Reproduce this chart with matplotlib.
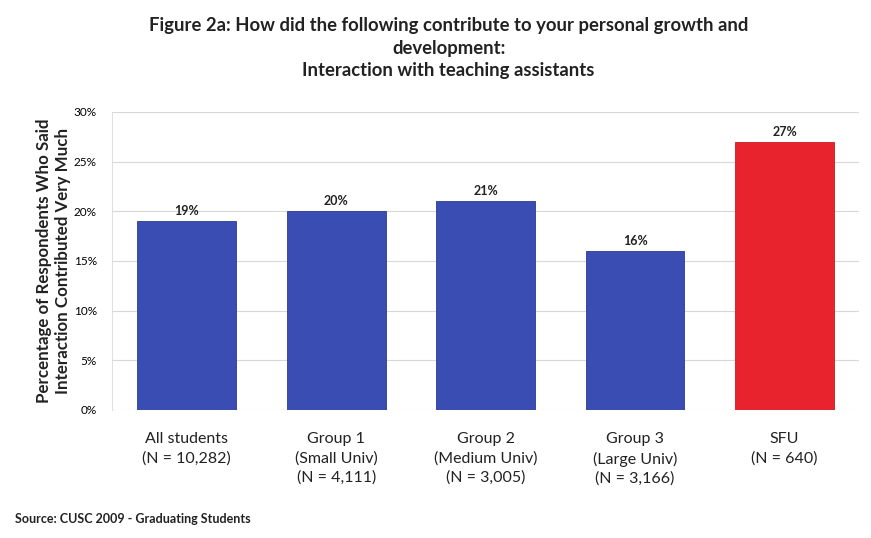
import matplotlib.pyplot as plt
from matplotlib.ticker import PercentFormatter

plt.rcParams['font.family'] = ['Lato', 'DejaVu Sans']

categories = ["All students\n(N = 10,282)", "Group 1\n(Small Univ)\n(N = 4,111)",
              "Group 2\n(Medium Univ)\n(N = 3,005)", "Group 3\n(Large Univ)\n(N = 3,166)",
              "SFU\n(N = 640)"]
values = [19, 20, 21, 16, 27]
colors = ["#3a4db3", "#3a4db3", "#3a4db3", "#3a4db3", "#e8232d"]

fig = plt.figure(figsize=(8.71, 5.38), dpi=100)
ax = fig.add_axes([0.1286, 0.238, 0.858, 0.554])

x = range(len(values))
bars = ax.bar(x, values, width=0.66, color=colors, edgecolor="#2a3a90", linewidth=0.6, zorder=3)
bars[-1].set_edgecolor("#c81820")
for xi, v in zip(x, values):
    ax.text(xi, v + 0.4, f"{v}%", ha="center", va="bottom", fontsize=9, fontweight="bold", color="#222222")

ax.set_xlim(-0.5, len(values) - 0.5)
ax.set_ylim(0, 30)
ax.set_yticks(range(0, 31, 5))
ax.yaxis.set_major_formatter(PercentFormatter(decimals=0))
ax.set_xticks(list(x))
ax.set_xticklabels(categories, fontsize=11.5, color="#222222", va="top", linespacing=1.45)
ax.tick_params(axis="both", length=0)
ax.tick_params(axis="y", labelsize=8.5, pad=11)
ax.tick_params(axis="x", pad=16)
ax.grid(axis="y", color="#d8d8d8", linewidth=0.8, zorder=0)
for s in ["top", "right", "bottom"]:
    ax.spines[s].set_visible(False)
ax.spines["left"].set_color("#e0e0e0")

ax.set_ylabel("Percentage of Respondents Who Said\nInteraction Contributed Very Much",
              fontsize=12.2, fontweight="bold", color="#222222", labelpad=2, linespacing=1.2)

fig.text(0.515, 0.968, "Figure 2a: How did the following contribute to your personal growth and\n"
         "development:\nInteraction with teaching assistants",
         ha="center", va="top", fontsize=13.3, fontweight="bold", color="#222222", linespacing=1.4)
fig.text(0.017, 0.028, "Source: CUSC 2009 - Graduating Students", fontsize=9,
         fontweight="bold", color="#222222")

fig.savefig("out.png", dpi=100)
